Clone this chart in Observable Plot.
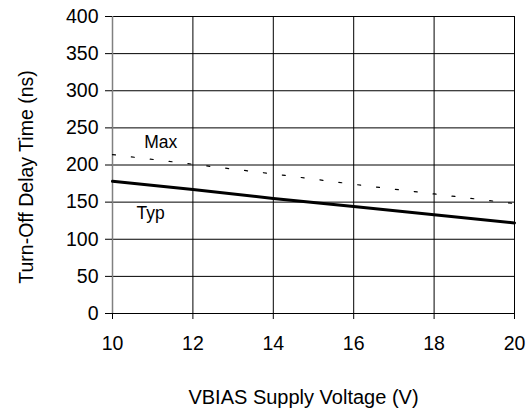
<!DOCTYPE html>
<html>
<head>
<meta charset="utf-8">
<script src="https://cdn.jsdelivr.net/npm/d3@7"></script>
<script src="https://cdn.jsdelivr.net/npm/@observablehq/plot@0.6"></script>
<style>
  html, body { margin: 0; padding: 0; background: #fff; }
  #chart svg { display: block; }
</style>
</head>
<body>
<div id="chart"></div>
<script>
const voltage = [10, 12, 14, 16, 18, 20];
const typDelay = [178, 167, 155, 144, 133, 122];
const maxDelay = [214, 201, 188, 174, 161, 148];
const xTicks = [10, 12, 14, 16, 18, 20];
const yTicks = [0, 50, 100, 150, 200, 250, 300, 350, 400];
const seriesLabels = [
  {x: 11.2, y: 231, text: "Max"},
  {x: 10.95, y: 135, text: "Typ"}
];
const xTitle = "VBIAS Supply Voltage (V)";
const yTitle = "Turn-Off Delay Time (ns)";

const typData = voltage.map((v, i) => ({v, d: typDelay[i]}));
const maxData = voltage.map((v, i) => ({v, d: maxDelay[i]}));

const chart = Plot.plot({
  width: 531,
  height: 411,
  marginLeft: 112,
  marginRight: 17,
  marginTop: 16,
  marginBottom: 98,
  style: {fontFamily: "'Liberation Sans', Arial, sans-serif", fontSize: "19.5px", color: "#000", background: "#fff"},
  x: {domain: [10, 20]},
  y: {domain: [0, 400]},
  marks: [
    Plot.gridX(xTicks.slice(1), {stroke: "#000", strokeOpacity: 1}),
    Plot.gridY(yTicks.slice(1), {stroke: "#000", strokeOpacity: 1}),
    Plot.ruleX([10], {y1: 0, y2: 400, stroke: "#808080", strokeWidth: 1.5}),
    Plot.ruleY([0], {stroke: "#000"}),
    Plot.axisX(xTicks, {tickSize: 6, tickPadding: 17, fontSize: 19.5, label: null}),
    Plot.axisY(yTicks, {tickSize: 7, tickPadding: 7, fontSize: 19.5, label: null}),
    Plot.text([xTitle], {frameAnchor: "bottom", dx: -10, dy: 84, textAnchor: "middle", lineAnchor: "middle", fontSize: 20, fill: "#000"}),
    Plot.text([yTitle], {frameAnchor: "left", dx: -86, dy: 12, rotate: -90, textAnchor: "middle", lineAnchor: "middle", fontSize: 19.5, fill: "#000"}),
    Plot.line(maxData, {x: "v", y: "d", stroke: "#000", strokeWidth: 1.2, strokeDasharray: "3,16"}),
    Plot.line(typData, {x: "v", y: "d", stroke: "#000", strokeWidth: 3}),
    Plot.text(seriesLabels, {x: "x", y: "y", text: "text", fontSize: 17.5, fill: "#000"})
  ]
});
document.getElementById("chart").append(chart);
</script>
</body>
</html>
